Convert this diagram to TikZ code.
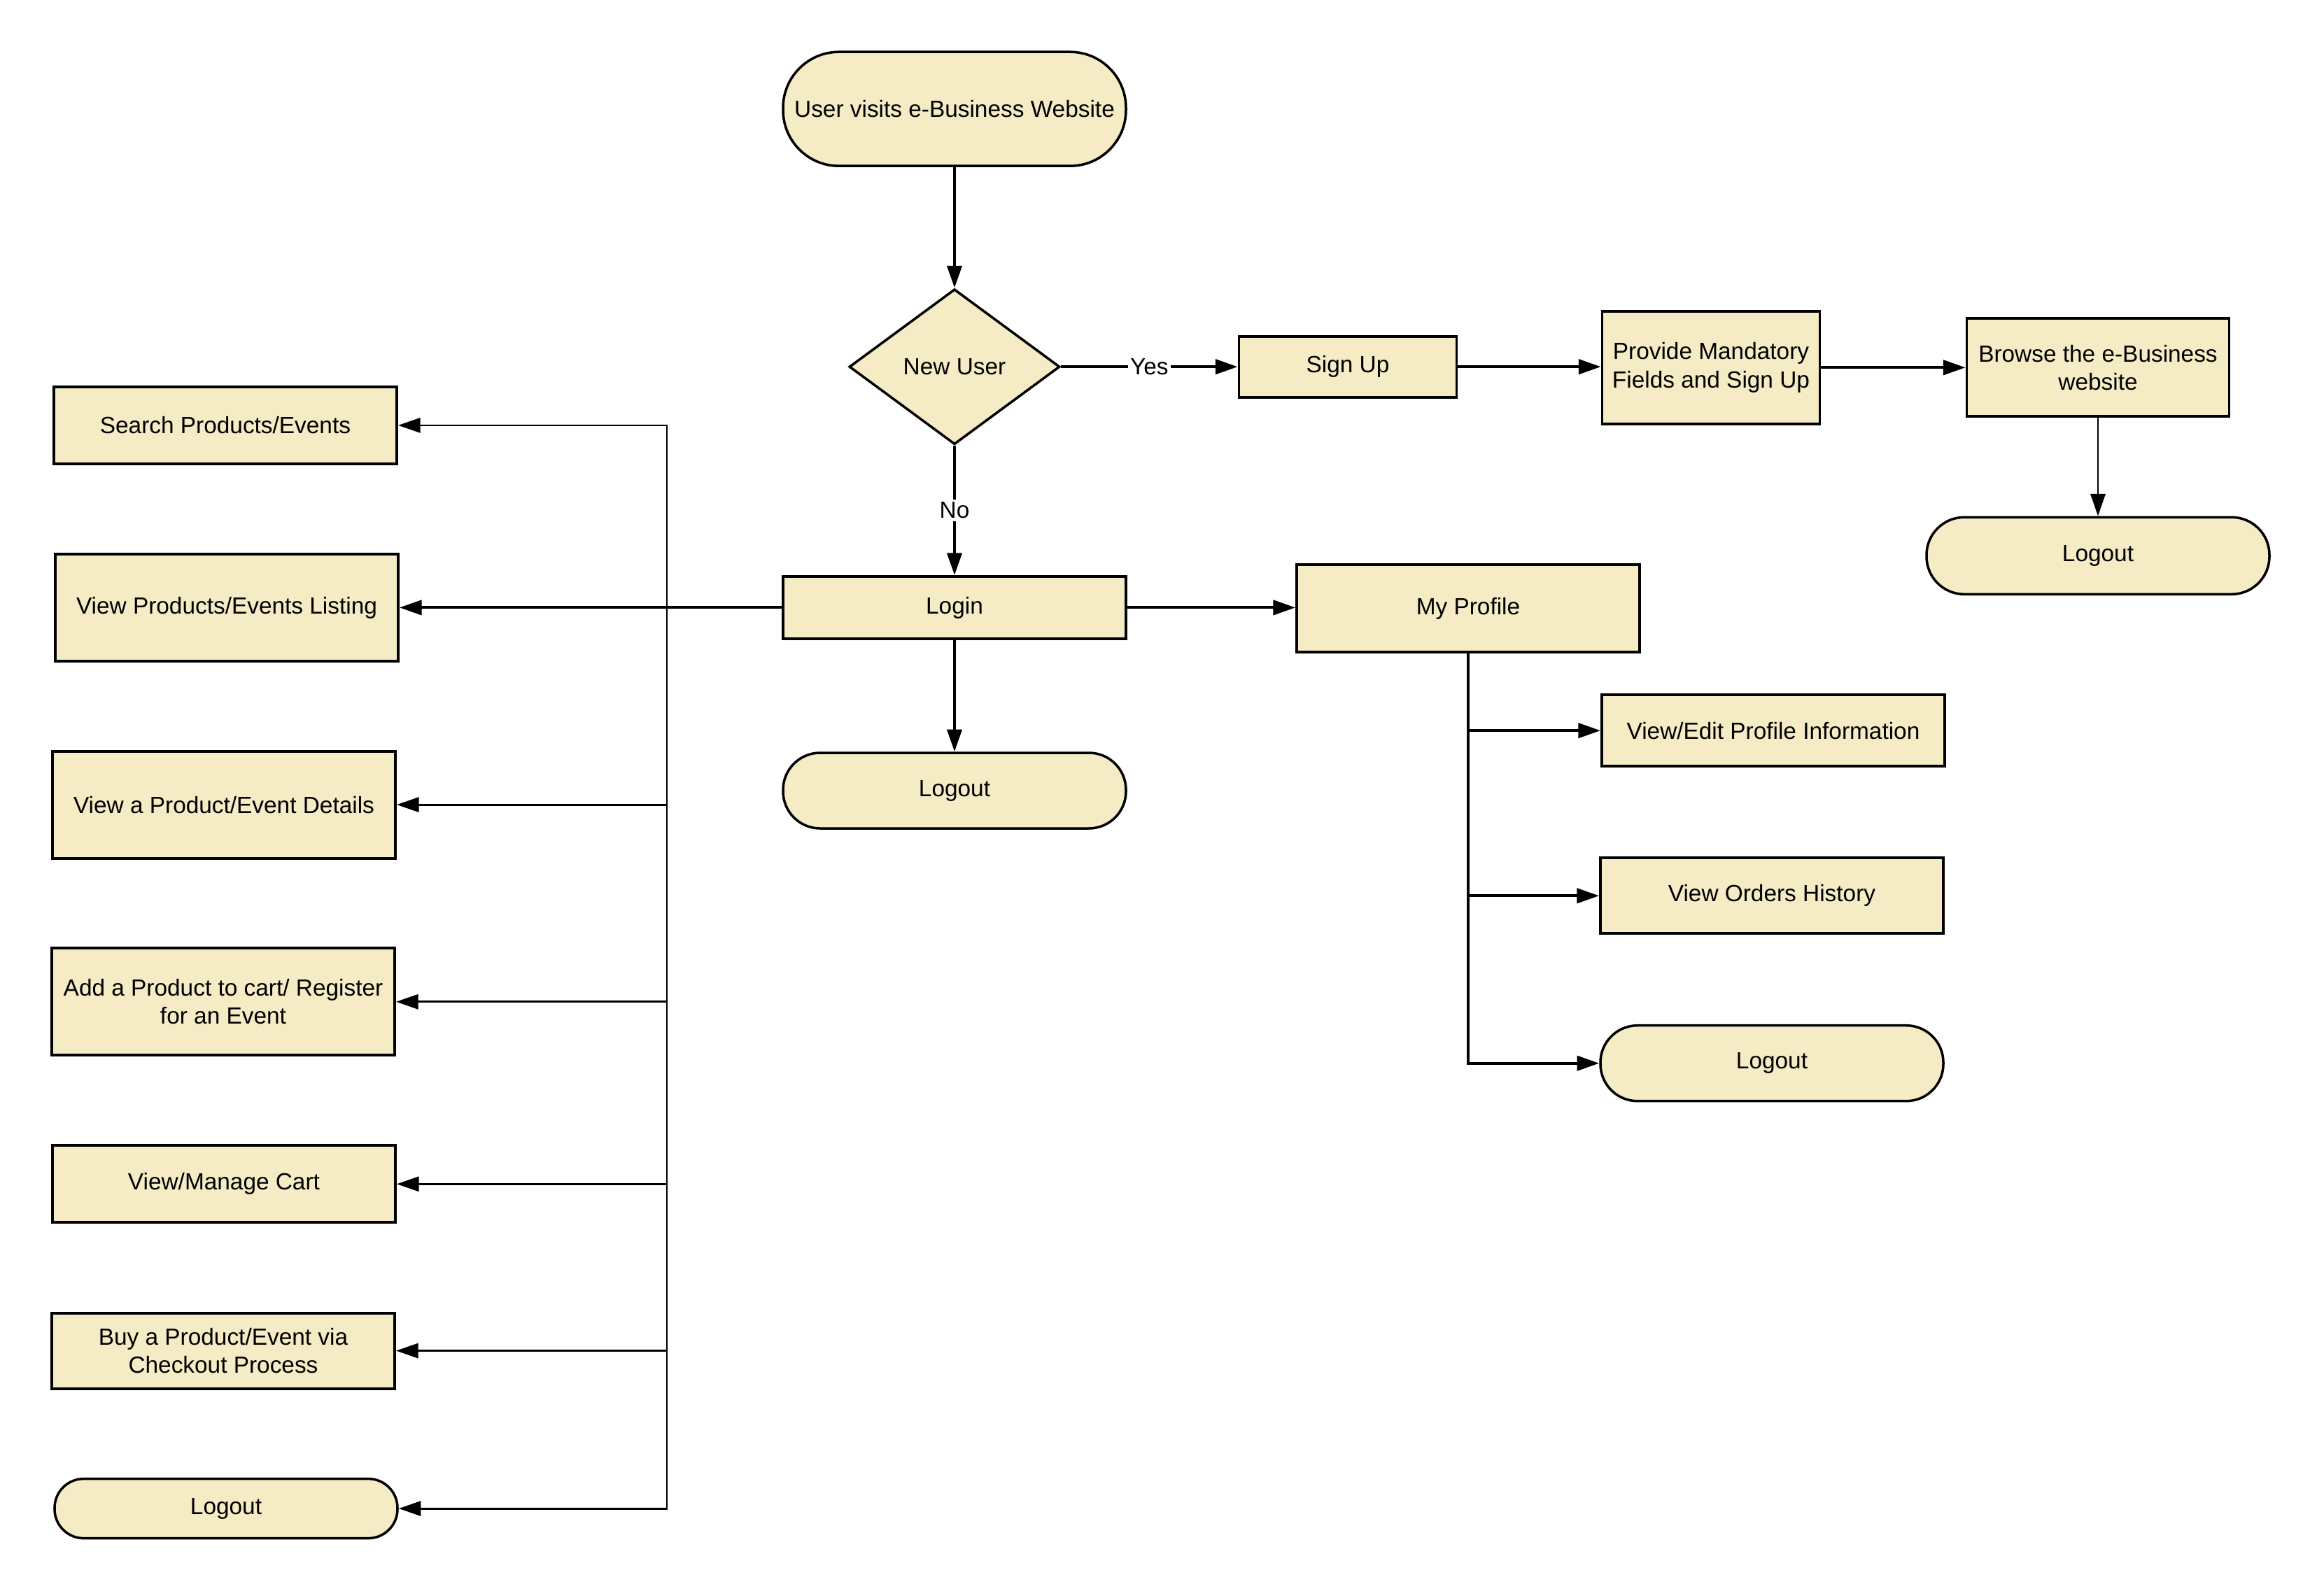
\documentclass[tikz,border=0pt]{standalone}
\usepackage{fontspec}
\setmainfont{Liberation Sans}
\usetikzlibrary{arrows.meta,shapes.geometric}
\definecolor{boxfill}{RGB}{245,235,196}
\begin{document}
\begin{tikzpicture}[>={Triangle[length=9pt,width=6pt]},
  every node/.style={font=\fontsize{9.5}{11.5}\selectfont},
  proc/.style={draw,line width=1.1pt,fill=boxfill,align=center,inner sep=2pt,minimum width=4.9cm,minimum height=#1},
  term/.style={draw,line width=1pt,fill=boxfill,align=center,inner sep=2pt,minimum width=4.9cm,minimum height=#1,rounded corners=0.49*#1},
  flow/.style={->,line width=1.1pt},
  branch/.style={->,line width=0.8pt},
  lbl/.style={fill=white,inner sep=1pt}]
\useasboundingbox (0,0) rectangle (33.21,-22.74);

\node[term=1.63cm] (start) at (13.64,-1.557) {User visits e-Business Website};
\node[draw,diamond,line width=1pt,fill=boxfill,inner sep=0pt,minimum width=3.01cm,minimum height=2.22cm] (newuser) at (13.64,-5.242) {New User};
\node[proc=0.87cm,minimum width=3.11cm] (signup) at (19.26,-5.242) {Sign Up};
\node[proc=1.61cm,minimum width=3.11cm] (provide) at (24.45,-5.253) {Provide Mandatory\\Fields and Sign Up};
\node[proc=1.40cm,minimum width=3.75cm] (browse) at (29.98,-5.253) {Browse the e-Business\\website};
\node[term=1.10cm] (logoutr) at (29.98,-7.943) {Logout};
\node[proc=0.89cm] (login) at (13.64,-8.684) {Login};
\node[term=1.08cm] (logoutc) at (13.64,-11.30) {Logout};
\node[proc=1.25cm] (profile) at (20.98,-8.694) {My Profile};
\node[proc=1.02cm] (viewedit) at (25.34,-10.442) {View/Edit Profile Information};
\node[proc=1.08cm] (orders) at (25.32,-12.803) {View Orders History};
\node[term=1.08cm] (logoutp) at (25.32,-15.197) {Logout};

\node[proc=1.10cm] (search) at (3.22,-6.079) {Search Products/Events};
\node[proc=1.53cm] (listing) at (3.24,-8.684) {View Products/Events Listing};
\node[proc=1.53cm] (details) at (3.20,-11.501) {View a Product/Event Details};
\node[proc=1.53cm] (addcart) at (3.19,-14.318) {Add a Product to cart/ Register\\for an Event};
\node[proc=1.10cm] (cart) at (3.20,-16.923) {View/Manage Cart};
\node[proc=1.08cm] (buy) at (3.19,-19.306) {Buy a Product/Event via\\Checkout Process};
\node[term=0.85cm] (logoutl) at (3.23,-21.561) {Logout};

\draw[flow] (start) -- (newuser);
\draw[flow] (newuser) -- node[lbl] (yes) {Yes} (signup);
\draw[flow] (newuser) -- node[lbl] (no) {No} (login);
\draw[flow] (signup.east) -- (signup.east -| provide.west);
\draw[flow] (provide) -- (browse);
\draw[branch] (browse) -- (logoutr);
\draw[flow] (login) -- (listing);
\draw[flow] (login.east) -- (login.east -| profile.west);
\draw[flow] (login) -- (logoutc);
\draw[flow] (profile.south) |- (viewedit.west);
\draw[flow] (profile.south) |- (orders.west);
\draw[flow] (profile.south) |- (logoutp.west);

\coordinate (jn) at (9.53,-8.684);
\draw[branch] (jn) |- (search.east);
\draw[branch] (jn) |- (details.east);
\draw[branch] (jn) |- (addcart.east);
\draw[branch] (jn) |- (cart.east);
\draw[branch] (jn) |- (buy.east);
\draw[branch] (jn) |- (logoutl.east);
\end{tikzpicture}
\end{document}
